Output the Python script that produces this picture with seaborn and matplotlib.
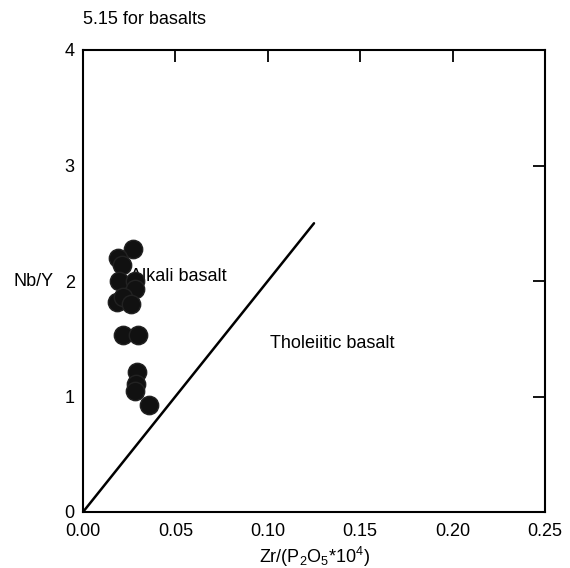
import matplotlib
matplotlib.use("Agg")
import matplotlib.pyplot as plt
import seaborn as sns
import pandas as pd

sns.set_style("white")
plt.rcParams['font.family'] = ['Liberation Sans', 'DejaVu Sans']
plt.rcParams['text.color'] = 'black'
plt.rcParams['axes.labelcolor'] = 'black'
plt.rcParams['mathtext.fontset'] = 'custom'
plt.rcParams['mathtext.rm'] = 'Liberation Sans'
plt.rcParams['mathtext.it'] = 'Liberation Sans'

zr_p2o5 = [0.0272, 0.0188, 0.0209, 0.0197, 0.0281, 0.0281, 0.0182, 0.0218,
           0.0260, 0.0215, 0.0296, 0.0294, 0.0287, 0.0281, 0.0359]
nb_y = [2.275, 2.20, 2.14, 2.00, 2.00, 1.93, 1.82, 1.86,
        1.80, 1.53, 1.53, 1.21, 1.11, 1.05, 0.926]
boundary_x = [0.0, 0.125]
boundary_y = [0.0, 2.5]
x_ticks = [0.00, 0.05, 0.10, 0.15, 0.20, 0.25]
y_ticks = [0, 1, 2, 3, 4]

df = pd.DataFrame({"x": zr_p2o5, "y": nb_y})
line_df = pd.DataFrame({"x": boundary_x, "y": boundary_y})

fig = plt.figure(figsize=(5.70, 5.68), dpi=100)
ax = fig.add_axes([83/570, 1 - 512/568, 462/570, 462/568])

sns.lineplot(data=line_df, x="x", y="y", ax=ax, color="black", linewidth=1.8)
sns.scatterplot(data=df, x="x", y="y", ax=ax, s=175, color="#111111",
                edgecolor="#222222", linewidth=1.0, zorder=3)

ax.set_xlim(0, 0.25)
ax.set_ylim(0, 4)
ax.set_xticks(x_ticks)
ax.set_xticklabels([f"{v:.2f}" for v in x_ticks])
ax.set_yticks(y_ticks)
ax.set_yticklabels([str(v) for v in y_ticks])
ax.tick_params(direction="in", length=8.5, width=1.3, top=True, right=True,
               labelsize=13, colors="black", pad=6)
ax.tick_params(axis="x", pad=8)
for s in ax.spines.values():
    s.set_linewidth(1.5)
    s.set_color("black")

ax.set_xlabel(r"Zr/(P$_2$O$_5$*10$^4$)", fontsize=13, labelpad=3.5)
ax.set_ylabel("Nb/Y", fontsize=13, rotation=0, labelpad=0)
ax.yaxis.set_label_coords(-0.063, 0.5, transform=ax.transAxes)
ax.yaxis.label.set_horizontalalignment("right")
ax.yaxis.label.set_verticalalignment("center")

ax.text(0.0254, 2.043, "Alkali basalt", fontsize=13, va="center", ha="left", zorder=2)
ax.text(0.1012, 1.455, "Tholeiitic basalt", fontsize=13, va="center", ha="left")
fig.text(83/570, 1 - 20/568, "5.15 for basalts", fontsize=13, va="center", ha="left")

fig.savefig("out.png", dpi=100)
